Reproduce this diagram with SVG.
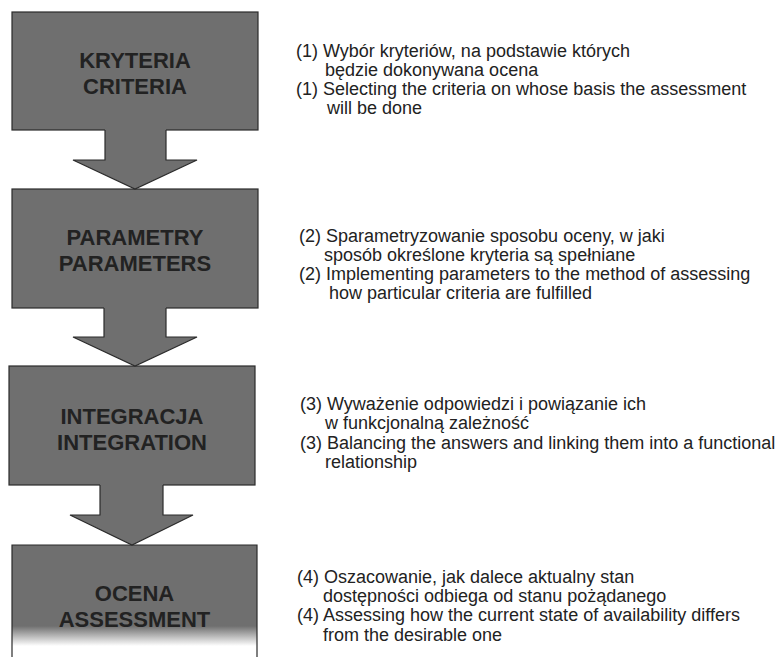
<svg xmlns="http://www.w3.org/2000/svg" width="779" height="657" viewBox="0 0 779 657">
  <style>
    .box { fill: #6f6f6f; stroke: #2b2b2b; stroke-width: 1.2; }
    .arrowFill { fill: #6f6f6f; stroke: none; }
    .arrowLine { fill: none; stroke: #2b2b2b; stroke-width: 1.2; stroke-linejoin: miter; }
    .lbl { font-family: "Liberation Sans", Arial, sans-serif; font-weight: bold; font-size: 22px; fill: #222222; text-anchor: middle; }
    .desc { font-family: "Liberation Sans", Arial, sans-serif; font-size: 18px; fill: #222222; }
  </style>
  <defs>
    <linearGradient id="fade" gradientUnits="userSpaceOnUse" x1="0" y1="626" x2="0" y2="646">
      <stop offset="0" stop-color="#6f6f6f"/>
      <stop offset="1" stop-color="#ffffff"/>
    </linearGradient>
  </defs>
  <rect width="779" height="657" fill="#ffffff"/>

  <g id="node1">
    <rect class="box" x="12" y="12" width="246" height="118"/>
    <text class="lbl" x="135" y="68">KRYTERIA</text>
    <text class="lbl" x="135" y="94">CRITERIA</text>
  </g>
  <g id="node2">
    <rect class="box" x="12" y="189" width="246" height="119"/>
    <text class="lbl" x="135" y="245">PARAMETRY</text>
    <text class="lbl" x="135" y="271">PARAMETERS</text>
  </g>
  <g id="node3">
    <rect class="box" x="9" y="366" width="246" height="119"/>
    <text class="lbl" x="132" y="424">INTEGRACJA</text>
    <text class="lbl" x="132" y="450">INTEGRATION</text>
  </g>
  <g id="node4">
    <rect x="12" y="545" width="245" height="115" fill="url(#fade)"/>
    <path d="M12,660 V545 H257 V660" fill="none" stroke="#2b2b2b" stroke-width="1.2"/>
    <text class="lbl" x="134.5" y="601">OCENA</text>
    <text class="lbl" x="134.5" y="627">ASSESSMENT</text>
  </g>

  <g id="connectors">
    <g id="arrow1">
      <polygon class="arrowFill" points="105,128 105,160 73,160 135,189 197,160 166,160 166,128"/>
      <polyline class="arrowLine" points="105,130 105,160 73,160 135,189 197,160 166,160 166,130"/>
    </g>
    <g id="arrow2">
      <polygon class="arrowFill" points="104,306 104,337 73,337 135,366 197,337 166,337 166,306"/>
      <polyline class="arrowLine" points="104,308 104,337 73,337 135,366 197,337 166,337 166,308"/>
    </g>
    <g id="arrow3">
      <polygon class="arrowFill" points="100,483 100,515 70,515 132,545 193,515 163,515 163,483"/>
      <polyline class="arrowLine" points="100,485 100,515 70,515 132,545 193,515 163,515 163,485"/>
    </g>
  </g>

  <g id="desc1" class="desc">
    <text x="296" y="57">(1) Wybór kryteriów, na podstawie których</text>
    <text x="325" y="76">będzie dokonywana ocena</text>
    <text x="296" y="95">(1) Selecting the criteria on whose basis the assessment</text>
    <text x="327" y="114">will be done</text>
  </g>
  <g id="desc2" class="desc">
    <text x="299" y="242">(2) Sparametryzowanie sposobu oceny, w jaki</text>
    <text x="324" y="261">sposób określone kryteria są spełniane</text>
    <text x="299" y="280">(2) Implementing parameters to the method of assessing</text>
    <text x="329" y="299">how particular criteria are fulfilled</text>
  </g>
  <g id="desc3" class="desc">
    <text x="300" y="410">(3) Wyważenie odpowiedzi i powiązanie ich</text>
    <text x="325" y="429">w funkcjonalną zależność</text>
    <text x="300" y="449">(3) Balancing the answers and linking them into a functional</text>
    <text x="325" y="468">relationship</text>
  </g>
  <g id="desc4" class="desc">
    <text x="297" y="583">(4) Oszacowanie, jak dalece aktualny stan</text>
    <text x="323" y="602">dostępności odbiega od stanu pożądanego</text>
    <text x="297" y="621">(4) Assessing how the current state of availability differs</text>
    <text x="323" y="641">from the desirable one</text>
  </g>
</svg>
